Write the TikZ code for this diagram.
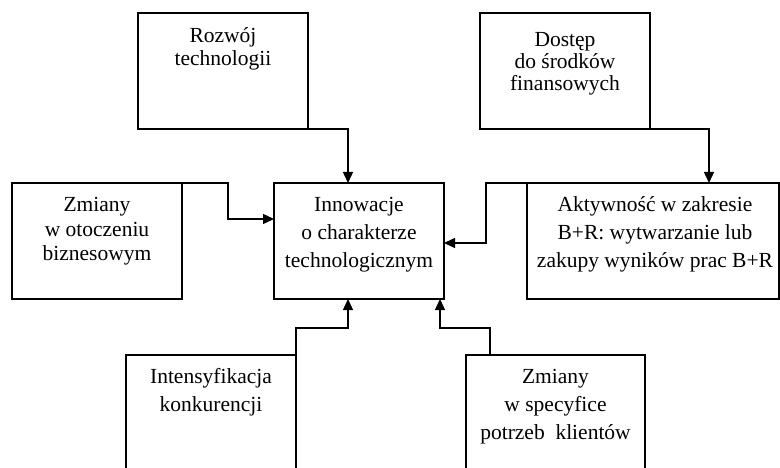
\documentclass[tikz,border=0pt]{standalone}
\usepackage{fontspec}
\setmainfont{Liberation Serif}
\usetikzlibrary{arrows.meta}
\begin{document}
\begin{tikzpicture}[x=1pt,y=-1pt,
  box/.style={draw, line width=1.4pt, inner sep=0pt, outer sep=0pt, anchor=north west},
  lbl/.style={inner sep=0pt, anchor=north, align=center, font=\fontsize{21.5}{#1}\selectfont},
  lbl/.default=28,
  link/.style={line width=1.4pt, -{Triangle[length=11pt,width=10pt]}},
]
\useasboundingbox (0,0) rectangle (780,468);
\clip (0,0) rectangle (780,468);

% boxes
\node[box, minimum width=170pt, minimum height=116pt] (rozwoj) at (138,13) {};
\node[box, minimum width=170pt, minimum height=116pt] (dostep) at (480,13) {};
\node[box, minimum width=170pt, minimum height=116pt] (zmiany) at (12,183) {};
\node[box, minimum width=170pt, minimum height=116pt] (innow) at (274,183) {};
\node[box, minimum width=252pt, minimum height=116pt] (aktyw) at (527,183) {};
\node[box, minimum width=170pt, minimum height=140pt] (intens) at (126,355) {};
\node[box, minimum width=179pt, minimum height=140pt] (spec) at (466,355) {};

% labels
\node[lbl=23] (rozwojT) at (223,26) {\rule{0pt}{16pt}Rozwój\\technologii};
\node[lbl=22] (dostepT) at (565,30) {\rule{0pt}{16pt}Dostęp\\do środków\\finansowych};
\node[lbl=24.5] (zmianyT) at (97,195.7) {\rule{0pt}{16pt}Zmiany\\w otoczeniu\\biznesowym};
\node[lbl] (innowT) at (359,195.7) {\rule{0pt}{16pt}Innowacje\\o charakterze\\technologicznym};
\node[lbl] (aktywT) at (655,195.7) {\rule{0pt}{16pt}Aktywność w zakresie\\B+R: wytwarzanie lub\\zakupy wyników prac B+R};
\node[lbl] (intensT) at (211,367.3) {\rule{0pt}{16pt}Intensyfikacja\\konkurencji};
\node[lbl] (specT) at (555.5,367.3) {\rule{0pt}{16pt}Zmiany\\w specyfice\\potrzeb\ \ klientów};

% connector points
\coordinate (t1) at (348,183);
\coordinate (t2) at (709,183);
\coordinate (b3) at (486,243);
\coordinate (t3) at (444,243);
\coordinate (b4) at (228,219);
\coordinate (t4) at (274,219);
\coordinate (b5) at (348,328);
\coordinate (t5) at (348,299);
\coordinate (s6) at (490,355);
\coordinate (b6) at (440,328);
\coordinate (t6) at (440,299);

% connectors
\draw[link] (rozwoj.south east) -| (t1);
\draw[link] (dostep.south east) -| (t2);
\draw[link] (aktyw.north west) -| (b3) -- (t3);
\draw[link] (zmiany.north east) -| (b4) -- (t4);
\draw[link] (intens.north east) |- (b5) -- (t5);
\draw[link] (s6) |- (b6) -- (t6);
\end{tikzpicture}
\end{document}
